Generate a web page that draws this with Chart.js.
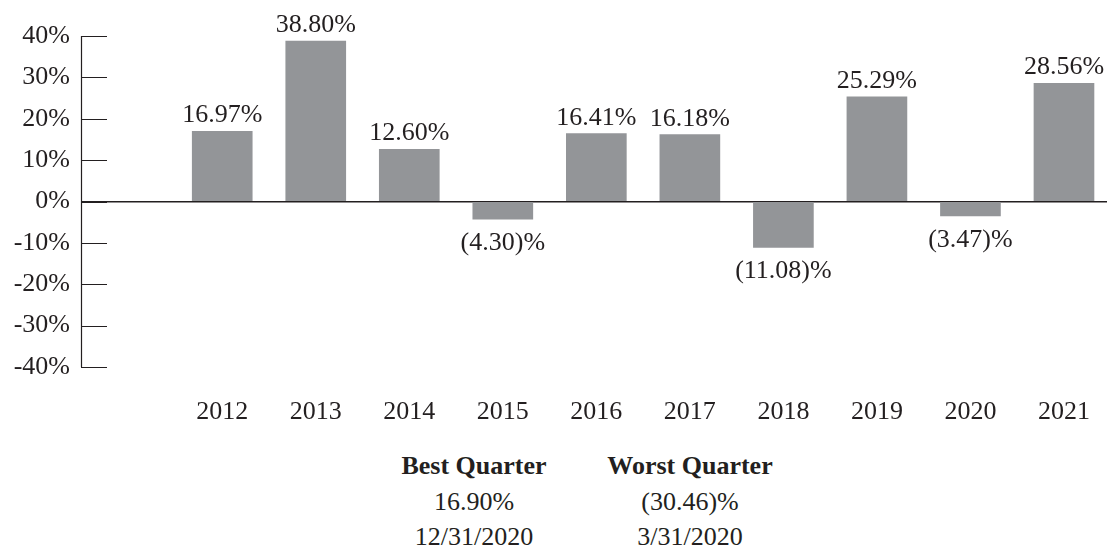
<!DOCTYPE html>
<html lang="en">
<head>
    <meta charset="UTF-8">
    <title>Annual Total Returns</title>
    <script src="https://cdn.jsdelivr.net/npm/chart.js"></script>
    <style>
        body {
            margin: 0;
            background: #fff;
            font-family: "Liberation Serif", "Times New Roman", serif;
            color: #231f20;
        }

        #chart-container {
            position: relative;
            width: 1107px;
            height: 440px;
        }

        #quarters {
            position: relative;
            width: 1107px;
            height: 110px;
            font-size: 26px;
        }

        .col {
            position: absolute;
            top: 8px;
            width: 240px;
            text-align: center;
            line-height: 35.5px;
        }

        .col b {
            font-weight: bold;
        }
    </style>
</head>
<body>
    <div id="chart-container">
        <canvas id="returnsChart"></canvas>
    </div>
    <div id="quarters">
        <div class="col" style="left:354px">
            <b>Best Quarter</b><br>16.90%<br>12/31/2020
        </div>
        <div class="col" style="left:570px">
            <b>Worst Quarter</b><br>(30.46)%<br>3/31/2020
        </div>
    </div>

    <script>
        const years = [2012, 2013, 2014, 2015, 2016, 2017, 2018, 2019, 2020, 2021];
        const returns = [16.97, 38.80, 12.60, -4.30, 16.41, 16.18, -11.08, 25.29, -3.47, 28.56];
        const yTicks = [-40, -30, -20, -10, 0, 10, 20, 30, 40];

        const ink = '#231f20';
        const barGrey = '#939598';
        const font = '"Liberation Serif", "Times New Roman", serif';

        function fmt(v) {
            if (v < 0) return '(' + Math.abs(v).toFixed(2) + ')%';
            return v.toFixed(2) + '%';
        }

        // value labels above / below each bar
        const valueLabels = {
            id: 'valueLabels',
            afterDatasetsDraw(chart) {
                const ctx = chart.ctx;
                const meta = chart.getDatasetMeta(0);
                ctx.save();
                ctx.font = '26px ' + font;
                ctx.fillStyle = ink;
                ctx.textAlign = 'center';
                ctx.textBaseline = 'alphabetic';
                meta.data.forEach((bar, i) => {
                    const v = returns[i];
                    const y = v >= 0 ? bar.y - 9 : bar.y + 31;
                    ctx.fillText(fmt(v), bar.x, y);
                });
                ctx.restore();
            }
        };

        // short tick marks pointing into the plot
        const innerTicks = {
            id: 'innerTicks',
            afterDraw(chart) {
                const ctx = chart.ctx;
                const yScale = chart.scales.y;
                const left = chart.chartArea.left;
                ctx.save();
                ctx.strokeStyle = ink;
                ctx.lineWidth = 1.2;
                ctx.beginPath();
                yTicks.forEach(t => {
                    const y = Math.round(yScale.getPixelForValue(t)) + 0.5;
                    ctx.moveTo(left, y);
                    ctx.lineTo(left + 26, y);
                });
                ctx.moveTo(left + 0.5, yScale.getPixelForValue(40));
                ctx.lineTo(left + 0.5, yScale.getPixelForValue(-40));
                ctx.stroke();
                ctx.restore();
            }
        };

        const ctx = document.getElementById('returnsChart').getContext('2d');
        new Chart(ctx, {
            type: 'bar',
            data: {
                datasets: [{
                    data: years.map((y, i) => ({ x: y, y: returns[i] })),
                    backgroundColor: barGrey,
                    barThickness: 60
                }]
            },
            plugins: [valueLabels, innerTicks],
            options: {
                responsive: true,
                maintainAspectRatio: false,
                animation: false,
                layout: {
                    padding: { top: 36, right: 0, left: 0, bottom: 0 }
                },
                plugins: {
                    legend: { display: false },
                    tooltip: { enabled: false }
                },
                scales: {
                    x: {
                        type: 'linear',
                        offset: false,
                        min: 2010.49,
                        max: 2021.46,
                        border: { display: false },
                        grid: { display: false, drawTicks: false },
                        afterBuildTicks(scale) {
                            scale.ticks = years.map(y => ({ value: y }));
                        },
                        afterFit(scale) {
                            scale.height = 73;
                            scale.paddingLeft = 0;
                            scale.paddingRight = 0;
                        },
                        ticks: {
                            padding: 30,
                            color: ink,
                            font: { family: font, size: 26 },
                            callback: v => String(v)
                        }
                    },
                    y: {
                        min: -40,
                        max: 40,
                        border: { display: false },
                        afterBuildTicks(scale) {
                            scale.ticks = yTicks.map(v => ({ value: v }));
                        },
                        afterFit(scale) { scale.width = 81; },
                        grid: {
                            drawTicks: false,
                            lineWidth: 1.5,
                            color: c => c.tick && c.tick.value === 0 ? ink : 'transparent'
                        },
                        ticks: {
                            padding: 11,
                            color: ink,
                            font: { family: font, size: 26 },
                            callback: v => v + '%'
                        }
                    }
                }
            }
        });
    </script>
</body>
</html>
